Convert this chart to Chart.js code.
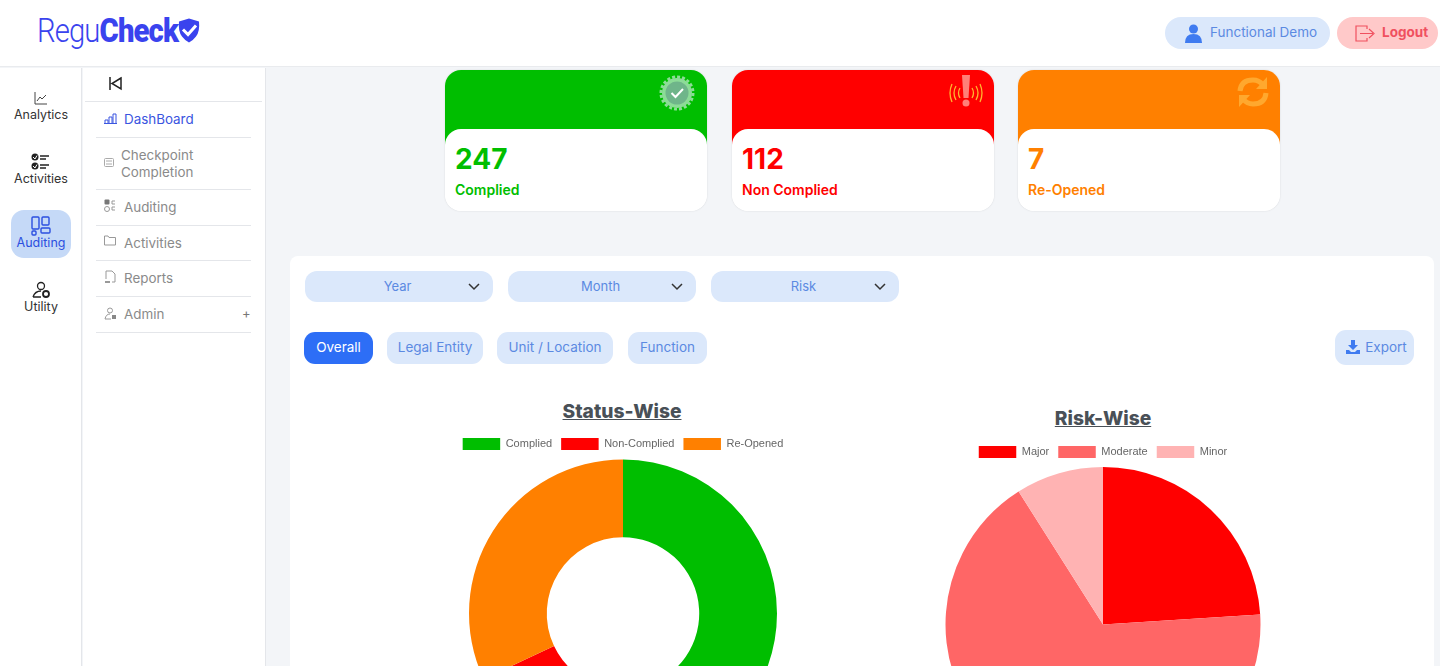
<!DOCTYPE html>
<html>
<head>
<meta charset="utf-8">
<title>RegCheck Dashboard</title>
<script src="https://cdn.jsdelivr.net/npm/chart.js@4"></script>
<style>
* { box-sizing: border-box; }
html, body { margin: 0; padding: 0; width: 1440px; height: 666px; overflow: hidden; background: #f3f5f8; font-family: Inter, sans-serif; }
.abs { position: absolute; white-space: nowrap; }
.header { position: absolute; left: 0; top: 0; width: 1440px; height: 67px; background: #fff; border-bottom: 1px solid #e9ebee; }
.logo { position: absolute; left: 37px; top: 8px; font-family: Roboto, sans-serif; font-size: 34px; line-height: 44px; color: #3a43ee; letter-spacing: -1px; transform: scaleX(.86); transform-origin: left center; white-space: nowrap; }
.logo b { font-weight: 900; }
.logo span { font-weight: 300; }
.pill { position: absolute; top: 17px; height: 32px; border-radius: 16px; font-size: 13.5px; line-height: 31px; }
.rail { position: absolute; left: 0; top: 68px; width: 82px; height: 598px; background: #fff; border-right: 1px solid #e4e6ea; }
.rail-item { position: absolute; left: 0; width: 82px; text-align: center; font-size: 12.5px; color: #333; }
.rail-active { position: absolute; left: 11px; top: 210px; width: 60px; height: 48px; background: #c5d9f7; border-radius: 13px; }
.menu { position: absolute; left: 83px; top: 68px; width: 183px; height: 598px; background: #fff; border-right: 1px solid #e4e6ea; }
.menu-line { position: absolute; height: 1px; background: #e4e6ea; }
.menu-text { position: absolute; left: 124px; font-size: 13.4px; line-height: 17px; color: #8a8a8a; white-space: nowrap; }
.card { position: absolute; top: 70px; width: 262px; height: 141px; border-radius: 16px; overflow: hidden; background: #fff; box-shadow: 0 0 2px rgba(0,0,0,.12); }
.card-top { position: absolute; left: 0; top: 0; width: 262px; height: 80px; }
.card-body { position: absolute; left: 0; top: 59px; width: 262px; height: 82px; background: #fff; border-radius: 16px; }
.card-num { position: absolute; left: 10px; top: 12px; font-size: 28px; font-weight: 700; line-height: 36px; }
.card-label { position: absolute; left: 10px; top: 52px; font-size: 14px; font-weight: 600; line-height: 18px; white-space: nowrap; }
.panel { position: absolute; left: 290px; top: 256px; width: 1144px; height: 420px; background: #fff; border-radius: 8px; }
.drop { position: absolute; top: 271px; width: 188px; height: 31px; background: #dbe8fb; border-radius: 12px; color: #5b8ae2; font-size: 13px; line-height: 30px; text-align: center; padding-right: 3px; }
.tab { position: absolute; top: 332px; height: 32px; background: #dbe8fb; border-radius: 11px; color: #5b8ae2; font-size: 13.5px; line-height: 31px; text-align: center; }
.chart-title { position: absolute; font-size: 19.2px; font-weight: 800; color: #495057; text-decoration: underline; white-space: nowrap; transform: translateX(-50%); line-height: 24px; }
canvas { position: absolute; }
</style>
</head>
<body>

<div class="header"></div>
<div class="logo"><span>Regu</span><b>Check</b></div>
<svg class="abs" style="left:177px;top:17px" width="24" height="27" viewBox="0 0 24 26">
  <path d="M12 1 L22 4 Q23 14 19 19 Q16 23 12 25 Q8 23 5 19 Q1 14 2 4 Z" fill="#3a43ee"/>
  <path d="M6 12 L11 17 L19 8" fill="none" stroke="#fff" stroke-width="3"/>
</svg>

<div class="pill" style="left:1165px;width:165px;background:#dbe8fb;color:#5b8ae2;padding-left:45px">Functional Demo</div>
<svg class="abs" style="left:1185px;top:24px" width="17" height="19" viewBox="0 0 17 19">
  <circle cx="8.5" cy="5" r="4.5" fill="#3f7bf0"/><path d="M0 19 Q0 10 8.5 10 Q17 10 17 19 Z" fill="#3f7bf0"/>
</svg>
<div class="pill" style="left:1337px;width:101px;background:#ffc9c9;color:#f0505f;padding-left:45px;font-weight:700">Logout</div>
<svg class="abs" style="left:1355px;top:25px" width="20" height="17" viewBox="0 0 20 17">
  <path d="M12 4 V1 H1 V16 H12 V13 M5 8.5 H18 M14 4 L19 8.5 L14 13" fill="none" stroke="#f0505f" stroke-width="1.2"/>
</svg>

<div class="rail"></div>
<div class="rail-active"></div>
<svg class="abs" style="left:34px;top:91px" width="14" height="14" viewBox="0 0 14 14">
  <path d="M1 1 V13 H13 M3 10 L6 6 L8 8 L12 4" fill="none" stroke="#444" stroke-width="1"/>
</svg>
<div class="rail-item" style="top:107px">Analytics</div>
<svg class="abs" style="left:31px;top:153px" width="19" height="17" viewBox="0 0 19 17">
  <circle cx="4" cy="4" r="3.5" fill="#222"/><circle cx="4" cy="13" r="3.5" fill="#222"/>
  <path d="M2 4 L4 6 L6 2.5 M2 13 L4 15 L6 11.5" fill="none" stroke="#fff" stroke-width="1"/>
  <path d="M9 3 H18 M9 6 H15 M9 12 H18 M9 15 H15" stroke="#222" stroke-width="1.6"/>
</svg>
<div class="rail-item" style="top:171px">Activities</div>
<svg class="abs" style="left:31px;top:216px" width="20" height="20" viewBox="0 0 20 20">
  <rect x="1" y="1" width="7" height="12" rx="1" fill="none" stroke="#2b4fe0" stroke-width="1.4"/>
  <rect x="11" y="1" width="7" height="8" rx="1" fill="none" stroke="#2b4fe0" stroke-width="1.4"/>
  <rect x="1" y="15" width="4" height="4" rx="1" fill="none" stroke="#2b4fe0" stroke-width="1.4"/>
  <rect x="10" y="12" width="9" height="5" rx="1" fill="none" stroke="#2b4fe0" stroke-width="1.4"/>
</svg>
<div class="rail-item" style="top:235px;color:#2b4fe0">Auditing</div>
<svg class="abs" style="left:32px;top:281px" width="19" height="18" viewBox="0 0 19 18">
  <circle cx="9" cy="5" r="3.5" fill="none" stroke="#222" stroke-width="1.3"/>
  <path d="M1 16 Q3 10 9 10 M1 16 H9" fill="none" stroke="#222" stroke-width="1.3"/>
  <circle cx="14" cy="13" r="3" fill="none" stroke="#222" stroke-width="1.8"/>
</svg>
<div class="rail-item" style="top:299px">Utility</div>

<div class="menu"></div>
<svg class="abs" style="left:108px;top:76px" width="15" height="15" viewBox="0 0 15 15">
  <path d="M2 1 V14 M13 2 L4 7.5 L13 13 Z" fill="none" stroke="#222" stroke-width="1.5"/>
</svg>
<div class="menu-line" style="left:85px;top:101px;width:177px"></div>
<div class="menu-line" style="left:96px;top:137px;width:155px"></div>
<div class="menu-line" style="left:96px;top:189px;width:155px"></div>
<div class="menu-line" style="left:96px;top:225px;width:155px"></div>
<div class="menu-line" style="left:96px;top:260px;width:155px"></div>
<div class="menu-line" style="left:96px;top:296px;width:155px"></div>
<div class="menu-line" style="left:96px;top:332px;width:155px"></div>
<svg class="abs" style="left:104px;top:113px" width="13" height="11" viewBox="0 0 13 11">
  <path d="M1 10 V7 H4 V10 M5 10 V4 H8 V10 M9 10 V1 H12 V10 M0 10.5 H13" fill="none" stroke="#3a55e0" stroke-width="1"/>
</svg>
<div class="menu-text" style="top:111px;color:#3a55e0">DashBoard</div>
<svg class="abs" style="left:104px;top:158px" width="10" height="9" viewBox="0 0 10 9">
  <rect x=".5" y=".5" width="9" height="8" rx="1" fill="none" stroke="#aaa"/><path d="M2 3 H8 M2 6 H8" stroke="#aaa"/>
</svg>
<div class="menu-text" style="left:121px;top:147px">Checkpoint<br>Completion</div>
<svg class="abs" style="left:104px;top:199px" width="12" height="14" viewBox="0 0 12 14">
  <rect x=".5" y=".5" width="5" height="5" rx="1" fill="#777"/><circle cx="3" cy="10" r="2.5" fill="none" stroke="#999"/>
  <path d="M11 2 H8 V5 H11 M11 8 H8 V11 H11" fill="none" stroke="#999"/>
</svg>
<div class="menu-text" style="top:199px">Auditing</div>
<svg class="abs" style="left:104px;top:235px" width="12" height="11" viewBox="0 0 12 11">
  <path d="M.5 10 V1 H4 L5 2.5 H11.5 V10 Z" fill="none" stroke="#999"/>
</svg>
<div class="menu-text" style="top:235px">Activities</div>
<svg class="abs" style="left:104px;top:270px" width="12" height="14" viewBox="0 0 12 14">
  <path d="M2 9 V1 H8 L11 4 V12 H8" fill="none" stroke="#999"/><path d="M1 12 H6" stroke="#999" stroke-width="2"/>
</svg>
<div class="menu-text" style="top:270px">Reports</div>
<svg class="abs" style="left:104px;top:307px" width="13" height="13" viewBox="0 0 13 13">
  <circle cx="6" cy="3.5" r="2.5" fill="none" stroke="#999"/><path d="M1 12 Q2 7 6 7 M1 12 H7" fill="none" stroke="#999"/><rect x="8" y="8" width="4" height="4" fill="#888"/>
</svg>
<div class="menu-text" style="top:306px">Admin</div>
<div class="abs" style="left:242px;top:305px;font-size:13px;line-height:17px;color:#777">+</div>

<!-- Summary cards -->
<div class="card" style="left:445px">
  <div class="card-top" style="background:#00be00"></div>
  <div class="card-body"><div class="card-num" style="color:#00be00">247</div><div class="card-label" style="color:#00be00">Complied</div></div>
  <svg class="abs" style="left:214px;top:5px" width="36" height="36" viewBox="0 0 36 36">
    <circle cx="18" cy="18" r="15" fill="#8cdc97"/><circle cx="18" cy="18" r="16" fill="none" stroke="#8cdc97" stroke-width="3" stroke-dasharray="3 2"/>
    <circle cx="18" cy="18" r="11.5" fill="#6fb58a"/>
    <path d="M12.5 18 L16.5 22 L24 14" fill="none" stroke="#fff" stroke-width="2"/>
  </svg>
</div>
<div class="card" style="left:732px">
  <div class="card-top" style="background:#ff0000"></div>
  <div class="card-body"><div class="card-num" style="color:#ff0000">112</div><div class="card-label" style="color:#ff0000">Non Complied</div></div>
  <svg class="abs" style="left:216px;top:4px" width="36" height="34" viewBox="0 0 36 34">
    <path d="M14 1 H22 L20.5 24 H15.5 Z" fill="#ff8078"/><circle cx="18" cy="29" r="3.5" fill="#ff8078"/>
    <path d="M12 14 Q9 19 12 24 M8 12 Q4 19 8 26 M4 10 Q0 19 4 28 M24 14 Q27 19 24 24 M28 12 Q32 19 28 26 M32 10 Q36 19 32 28" fill="none" stroke="#ffb52e" stroke-width="1.3"/>
  </svg>
</div>
<div class="card" style="left:1018px">
  <div class="card-top" style="background:#ff8000"></div>
  <div class="card-body"><div class="card-num" style="color:#ff8000">7</div><div class="card-label" style="color:#ff8000">Re-Opened</div></div>
  <svg class="abs" style="left:218px;top:5px" width="34" height="34" viewBox="0 0 34 34">
    <path d="M4 16 Q5 5 17 5 Q23 5 27 10 M30 18 Q29 29 17 29 Q11 29 7 24" fill="none" stroke="#ffa82e" stroke-width="5"/>
    <path d="M31 2 V14 H20 Z M3 32 V20 H14 Z" fill="#ffa82e"/>
  </svg>
</div>

<div class="panel"></div>

<div class="drop" style="left:305px">Year</div>
<div class="drop" style="left:508px">Month</div>
<div class="drop" style="left:711px">Risk</div>
<svg class="abs" style="left:468px;top:283px" width="12" height="8" viewBox="0 0 12 8"><path d="M1 1 L6 6 L11 1" fill="none" stroke="#333" stroke-width="1.5"/></svg>
<svg class="abs" style="left:671px;top:283px" width="12" height="8" viewBox="0 0 12 8"><path d="M1 1 L6 6 L11 1" fill="none" stroke="#333" stroke-width="1.5"/></svg>
<svg class="abs" style="left:874px;top:283px" width="12" height="8" viewBox="0 0 12 8"><path d="M1 1 L6 6 L11 1" fill="none" stroke="#333" stroke-width="1.5"/></svg>

<div class="tab" style="left:304px;width:69px;background:#2d6ef6;color:#fff">Overall</div>
<div class="tab" style="left:387px;width:96px">Legal Entity</div>
<div class="tab" style="left:497px;width:116px">Unit / Location</div>
<div class="tab" style="left:628px;width:79px">Function</div>
<div class="tab" style="left:1335px;top:330px;width:79px;height:35px;line-height:35px;padding-left:23px">Export</div>
<svg class="abs" style="left:1346px;top:340px" width="14" height="14" viewBox="0 0 14 14">
  <path d="M5 0 H9 V5 H12 L7 10 L2 5 H5 Z M0 10 H3 L5 12 H9 L11 10 H14 V14 H0 Z" fill="#3f7bf0"/>
</svg>

<div class="chart-title" style="left:622px;top:399px">Status-Wise</div>
<div class="chart-title" style="left:1103px;top:406px">Risk-Wise</div>

<canvas id="status-chart" style="left:442.5px;top:429px"></canvas>
<canvas id="risk-chart" style="left:923px;top:437px"></canvas>

<script>
// Chart data
const statusLabels = ['Complied', 'Non-Complied', 'Re-Opened'];
const statusValues = [61, 7, 32];
const statusColors = ['#00be00', '#ff0000', '#ff8000'];

const riskLabels = ['Major', 'Moderate', 'Minor'];
const riskValues = [24, 67, 9];
const riskColors = ['#ff0000', '#ff6666', '#ffb3b3'];

// Shared options for both round charts
function roundOptions() {
    return {
        responsive: false,
        animation: false,
        plugins: {
            legend: {
                position: 'top',
                labels: {
                    boxWidth: 37.5,
                    boxHeight: 12,
                    padding: 9,
                    color: '#666',
                    font: { family: 'Liberation Sans', size: 11 }
                }
            },
            tooltip: { enabled: false }
        }
    };
}

function initializeCharts() {
    const statusCanvas = document.getElementById('status-chart');
    statusCanvas.width = 360;
    statusCanvas.height = 338;
    new Chart(statusCanvas.getContext('2d'), {
        type: 'doughnut',
        data: {
            labels: statusLabels,
            datasets: [{ data: statusValues, backgroundColor: statusColors, borderWidth: 0 }]
        },
        options: Object.assign(roundOptions(), { cutout: '49.5%', radius: 154 })
    });

    const riskCanvas = document.getElementById('risk-chart');
    riskCanvas.width = 360;
    riskCanvas.height = 344;
    new Chart(riskCanvas.getContext('2d'), {
        type: 'pie',
        data: {
            labels: riskLabels,
            datasets: [{ data: riskValues, backgroundColor: riskColors, borderWidth: 0 }]
        },
        options: Object.assign(roundOptions(), { radius: 157.5 })
    });
}

initializeCharts();
</script>
</body>
</html>
